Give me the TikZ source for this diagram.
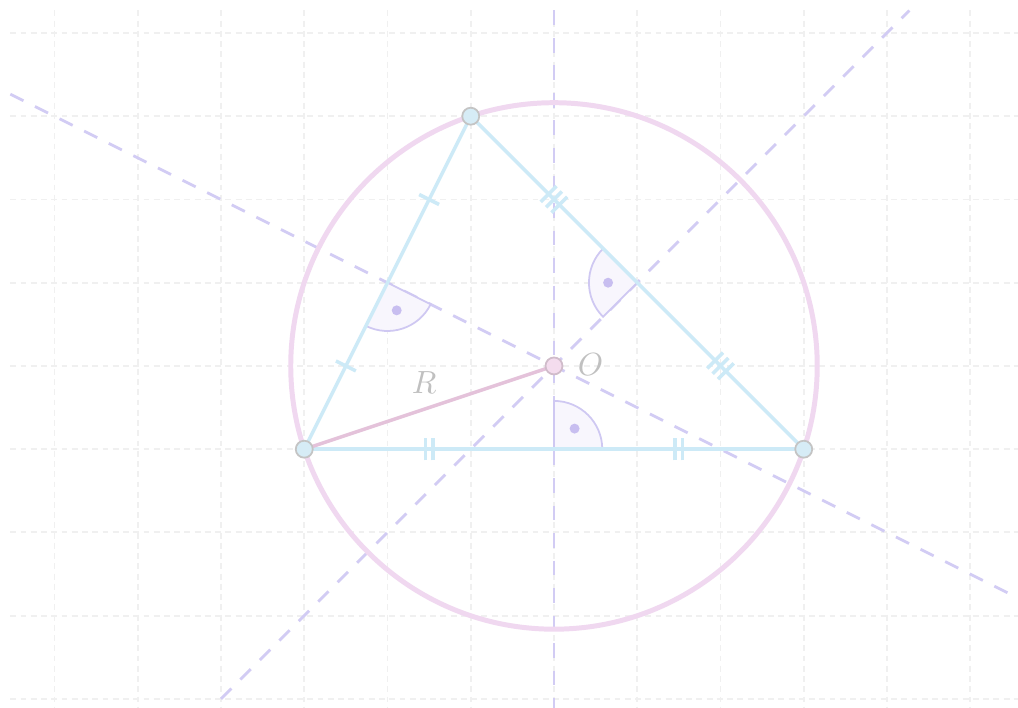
\documentclass[tikz,border=0pt]{standalone}
\usetikzlibrary{calc,decorations.markings}
\definecolor{gridc}{HTML}{F0F0F0}
\definecolor{bisc}{HTML}{D2CCF4}
\definecolor{secdraw}{HTML}{CFC8F2}
\definecolor{tric}{HTML}{CDEAF7}
\definecolor{circc}{HTML}{F0D8F0}
\definecolor{radc}{HTML}{E4C2DA}
\definecolor{ptfill}{HTML}{D6ECF6}
\definecolor{ptdraw}{HTML}{C4C4C4}
\definecolor{ofill}{HTML}{F4DCEE}
\definecolor{ofdraw}{HTML}{D0BCCA}
\definecolor{secfill}{HTML}{F8F6FD}
\definecolor{dotc}{HTML}{C8BEF0}
\definecolor{labc}{HTML}{C0C0C0}
\tikzset{
  gridline/.style={gridc, line width=0.65pt, dash pattern=on 2pt off 1.5pt},
  bisline/.style={bisc, line width=0.95pt, dash pattern=on 5pt off 4.4pt},
  sideline/.style={tric, line width=1.2pt},
  circline/.style={circc, line width=1.7pt},
  radline/.style={radc, line width=1.2pt},
  vertexpt/.style={circle, fill=ptfill, draw=ptdraw, line width=0.6pt, inner sep=0pt, minimum size=5.8pt},
  centerpt/.style={circle, fill=ofill, draw=ofdraw, line width=0.6pt, inner sep=0pt, minimum size=5.8pt},
  secstyle/.style={fill=secfill, draw=secdraw, line width=0.6pt},
  dotstyle/.style={circle, fill=dotc, inner sep=0pt, minimum size=3.4pt},
  labstyle/.style={text=labc, font=\fontsize{11}{13}\selectfont, inner sep=0pt},
  tk/.style={tric, line width=1.2pt},
  tickone/.style={postaction={decorate, decoration={markings,
     mark=at position 0.25 with {\draw[tk] (0,-3.8pt) -- (0,3.8pt);},
     mark=at position 0.75 with {\draw[tk] (0,-3.8pt) -- (0,3.8pt);}}}},
  ticktwo/.style={postaction={decorate, decoration={markings,
     mark=at position 0.25 with {\draw[tk] (-1.3pt,-3.8pt) -- (-1.3pt,3.8pt) (1.3pt,-3.8pt) -- (1.3pt,3.8pt);},
     mark=at position 0.75 with {\draw[tk] (-1.3pt,-3.8pt) -- (-1.3pt,3.8pt) (1.3pt,-3.8pt) -- (1.3pt,3.8pt);}}}},
  tickthree/.style={postaction={decorate, decoration={markings,
     mark=at position 0.25 with {\draw[tk] (-2.6pt,-3.8pt) -- (-2.6pt,3.8pt) (0,-3.8pt) -- (0,3.8pt) (2.6pt,-3.8pt) -- (2.6pt,3.8pt);},
     mark=at position 0.75 with {\draw[tk] (-2.6pt,-3.8pt) -- (-2.6pt,3.8pt) (0,-3.8pt) -- (0,3.8pt) (2.6pt,-3.8pt) -- (2.6pt,3.8pt);}}}}
}
\begin{document}
\begin{tikzpicture}
\useasboundingbox[fill=white] (-6.655,-4.108) rectangle (5.574,4.396);
% grid
\foreach \x in {-6,...,5} \draw[gridline] (\x,4.27) -- (\x,-4.108);
\foreach \y in {-4,...,4} \draw[gridline] (-6.53,\y) -- (5.574,\y);
% points
\coordinate (A) at (-3,-1);
\coordinate (B) at (3,-1);
\coordinate (C) at (-1,3);
\coordinate (O) at (0,0);
\coordinate (Mab) at (0,-1);
\coordinate (Mac) at (-2,1);
\coordinate (Mbc) at (1,1);
% bisector ends
\coordinate (v1) at (0,4.27);
\coordinate (v2) at (0,-4.108);
\coordinate (d1) at (-6.53,3.265);
\coordinate (d2) at (5.574,-2.787);
\coordinate (e1) at (-4.0,-4.0);
\coordinate (e2) at (4.27,4.27);
\draw[bisline] (v1) -- (v2);
\draw[bisline] (d1) -- (d2);
\draw[bisline] (e1) -- (e2);
% circle
\draw[circline] (O) circle[radius=3.1623];
% right angle marks
\filldraw[secstyle] (Mab) -- ++(0:0.58) arc[start angle=0, end angle=90, radius=0.58] -- cycle;
\filldraw[secstyle] (Mac) -- ++(243.43:0.58) arc[start angle=243.43, end angle=333.43, radius=0.58] -- cycle;
\filldraw[secstyle] (Mbc) -- ++(135:0.58) arc[start angle=135, end angle=225, radius=0.58] -- cycle;
\node[dotstyle] (dab) at ($(Mab)+(45:0.35)$) {};
\node[dotstyle] (dac) at ($(Mac)+(288.43:0.35)$) {};
\node[dotstyle] (dbc) at ($(Mbc)+(180:0.35)$) {};
% triangle
\draw[sideline, ticktwo] (A) -- (B);
\draw[sideline, tickone] (A) -- (C);
\draw[sideline, tickthree] (B) -- (C);
% radius
\draw[radline] (O) -- (A);
% vertices
\node[vertexpt] (nA) at (A) {};
\node[vertexpt] (nB) at (B) {};
\node[vertexpt] (nC) at (C) {};
\node[centerpt] (nO) at (O) {};
% labels
\node[labstyle] (lO) at (0.44,0.02) {$O$};
\node[labstyle] (lR) at (-1.56,-0.2) {$R$};
\end{tikzpicture}
\end{document}
